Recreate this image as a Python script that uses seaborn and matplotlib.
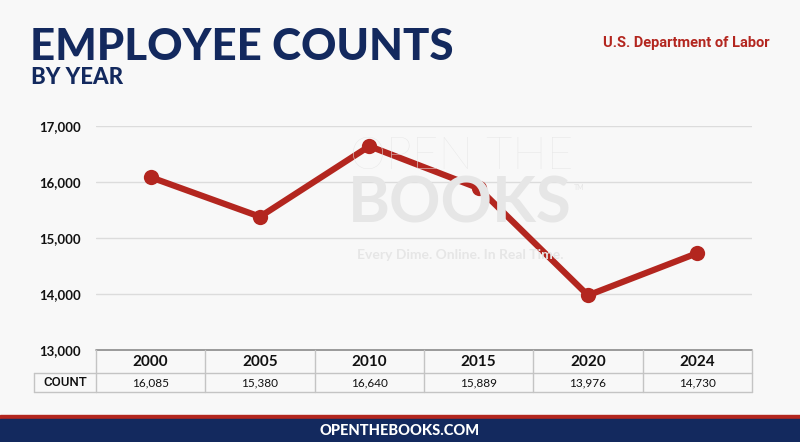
import seaborn as sns
import pandas as pd
import matplotlib.pyplot as plt
from matplotlib.patches import Rectangle
from matplotlib.transforms import blended_transform_factory

years = ["2000", "2005", "2010", "2015", "2020", "2024"]
counts = [16085, 15380, 16640, 15889, 13976, 14730]
count_labels = ["16,085", "15,380", "16,640", "15,889", "13,976", "14,730"]
yticks = [13000, 14000, 15000, 16000, 17000]

navy = "#13295e"
red = "#b3261f"

sns.set_style("white")
plt.rcParams['font.family'] = ['Lato', 'DejaVu Sans']
narrow = ["Liberation Sans Narrow", "Roboto", "DejaVu Sans"]

df = pd.DataFrame({"year": years, "count": counts})

fig = plt.figure(figsize=(8, 4.42), dpi=100, facecolor="#f8f8f8")
ax = fig.add_axes([96 / 800, 1 - 350 / 442, (752 - 96) / 800, 224 / 442])
ax.set_facecolor("none")

# faint watermark
wm = "#e6e6e6"
fig.text(350 / 800, 1 - 156 / 442, "OPEN THE", fontsize=33, fontweight="light",
         color=wm, va="center", ha="left", zorder=0)
fig.text(348 / 800, 1 - 204 / 442, "BOOKS", fontsize=46, fontweight="bold",
         color=wm, va="center", ha="left", zorder=0)
fig.text(574 / 800, 1 - 190 / 442, "TM", fontsize=5, color=wm, zorder=0)
fig.text(357 / 800, 1 - 255 / 442, "Every Dime. Online. In Real Time.", fontsize=10,
         fontweight="bold", color=wm, va="center", ha="left", zorder=0)

sns.lineplot(data=df, x="year", y="count", ax=ax, color=red, linewidth=4.5,
             marker="o", markersize=11, markeredgewidth=0, sort=False, zorder=5)

ax.set_xlim(-0.5, 5.5)
ax.set_ylim(13000, 17000)
ax.set_yticks(yticks)
ax.set_yticklabels([f"{v:,}" for v in yticks], fontsize=9.5, fontweight="bold", color="#111111")
ax.tick_params(axis="y", length=0, pad=11)
ax.set_xticks([])
ax.set_xlabel("")
ax.set_ylabel("")
for s in ax.spines.values():
    s.set_visible(False)
for v in yticks[1:]:
    ax.axhline(v, color="#dcdcdc", lw=1, zorder=1)

# table under the axis
tr = blended_transform_factory(ax.transData, ax.transAxes)
row1 = -23 / 224
row2 = -42 / 224
grey = "#c4c4c4"
ax.plot([-0.5, 5.5], [0, 0], transform=tr, color="#8a8a8a", lw=1.2, clip_on=False)
ax.plot([-0.5, 5.5], [row1, row1], transform=tr, color=grey, lw=1, clip_on=False)
ax.plot([-0.5, 5.5], [row2, row2], transform=tr, color=grey, lw=1, clip_on=False)
for xb in [-0.5, 0.5, 1.5, 2.5, 3.5, 4.5, 5.5]:
    ax.plot([xb, xb], [0, row2], transform=tr, color=grey, lw=1, clip_on=False)
left = -0.5 - 62 / 109.4
ax.plot([left, -0.5], [row1, row1], transform=tr, color=grey, lw=1, clip_on=False)
ax.plot([left, -0.5], [row2, row2], transform=tr, color=grey, lw=1, clip_on=False)
ax.plot([left, left], [row1, row2], transform=tr, color=grey, lw=1, clip_on=False)
ax.text((left - 0.5) / 2, (row1 + row2) / 2, "COUNT", transform=tr, ha="center", va="center",
        fontsize=9.5, fontweight="medium", color="#111111", family=narrow)
for i, (y, c) in enumerate(zip(years, count_labels)):
    ax.text(i, row1 / 2, y, transform=tr, ha="center", va="center", fontsize=11,
            fontweight="bold", color="#111111")
    ax.text(i, (row1 + row2) / 2, c, transform=tr, ha="center", va="center",
            fontsize=8.5, color="#111111")

# titles
fig.text(30 / 800, 1 - 47 / 442, "EMPLOYEE COUNTS", fontsize=31.5, fontweight="black",
         color=navy, va="center", ha="left")
fig.text(31 / 800, 1 - 78 / 442, "BY YEAR", fontsize=16, fontweight="black",
         color=navy, va="center", ha="left")
fig.text(770 / 800, 1 - 43 / 442, "U.S. Department of Labor", fontsize=10.5,
         fontweight="bold", color=red, va="center", ha="right", family=narrow)

# footer band
fig.patches.append(Rectangle((0, 1 - 419 / 442), 1, 4 / 442, transform=fig.transFigure,
                             color=red, zorder=0))
fig.patches.append(Rectangle((0, 0), 1, 1 - 419 / 442, transform=fig.transFigure,
                             color=navy, zorder=0))
fig.text(0.5, 1 - 431 / 442, "OPENTHEBOOKS.COM", fontsize=10.5, fontweight="black",
         color="white", va="center", ha="center")

fig.savefig("out.png", dpi=100, facecolor=fig.get_facecolor())
